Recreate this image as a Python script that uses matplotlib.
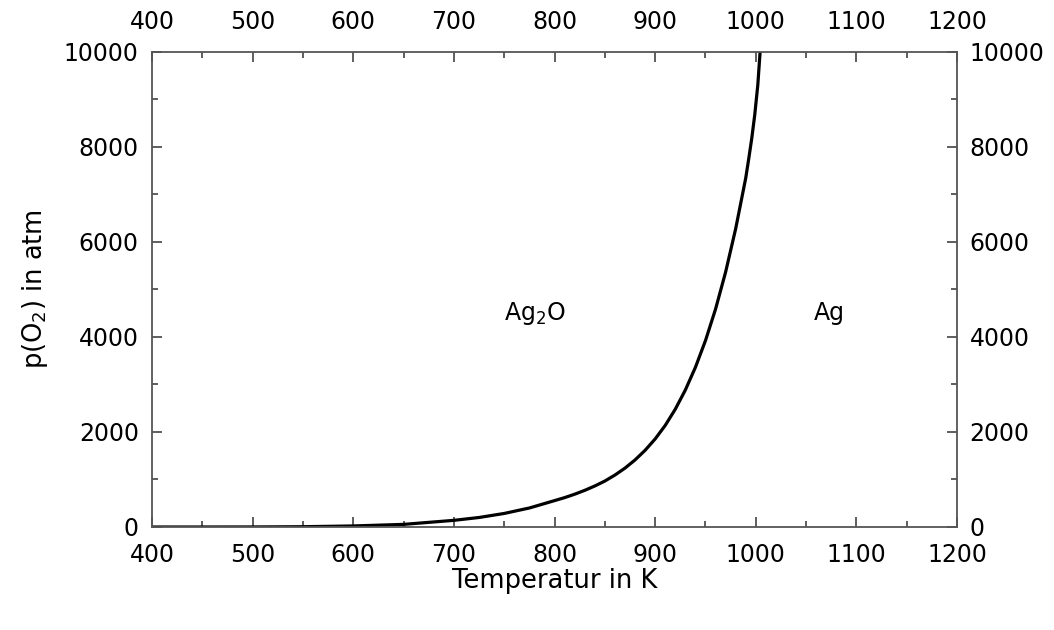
import matplotlib
matplotlib.use("Agg")
import matplotlib.pyplot as plt

# Zersetzungsdruck von Ag2O über der Temperatur
temperatur = [400, 450, 500, 550, 600, 650, 700, 725, 750, 775, 800, 810, 820, 830,
              840, 850, 860, 870, 880, 890, 900, 910, 920, 930, 940, 950, 960, 970,
              980, 990, 993, 996, 999, 1002, 1004.3]
druck = [0, 0, 1, 6, 22, 55, 140, 200, 285, 400, 555, 618, 690, 771,
         863, 967, 1093, 1239, 1411, 1614, 1853, 2138, 2479, 2883, 3360, 3923, 4585, 5364,
         6276, 7343, 7750, 8180, 8680, 9300, 10000]

phasen = ["Ag$_2$O", "Ag"]
phasen_x = [781, 1073]
phasen_y = [4500, 4500]

x_major = list(range(400, 1201, 100))
x_minor = list(range(450, 1200, 100))
y_major = list(range(0, 10001, 2000))
y_minor = list(range(1000, 10000, 2000))

plt.rcParams['font.family'] = ['DejaVu Sans']
plt.rcParams['font.size'] = 17

fig = plt.figure(figsize=(10.54, 6.3), dpi=100)
ax = fig.add_axes([0.1442, 0.1635, 0.7638, 0.754])

ax.plot(temperatur, druck, color='black', linewidth=2.3,
        solid_capstyle='butt', solid_joinstyle='round')

for name, x, y in zip(phasen, phasen_x, phasen_y):
    ax.text(x, y, name, ha='center', va='center', fontsize=17)

ax.set_xlim(400, 1200)
ax.set_ylim(0, 10000)
ax.set_xticks(x_major)
ax.set_xticks(x_minor, minor=True)
ax.set_yticks(y_major)
ax.set_yticks(y_minor, minor=True)

ax.tick_params(which='both', direction='in', top=True, right=True,
               width=1.1, color='#333333')
ax.tick_params(which='major', length=7)
ax.tick_params(which='minor', length=4)
ax.tick_params(axis='x', which='major', pad=11.5)
ax.tick_params(axis='y', which='major', pad=9.5)

for s in ax.spines.values():
    s.set_linewidth(1.3)
    s.set_color('#555555')

# Beschriftung oben und rechts
top = ax.secondary_xaxis('top')
top.set_xticks(x_major)
top.tick_params(which='both', length=0, pad=13)
right = ax.secondary_yaxis('right')
right.set_yticks(y_major)
right.tick_params(which='both', length=0, pad=9)
for sec in (top, right):
    for s in sec.spines.values():
        s.set_visible(False)

ax.set_xlabel("Temperatur in K", fontsize=18.5, labelpad=1)
ax.set_ylabel("p(O$_2$) in atm", fontsize=18.5, labelpad=10)

fig.savefig("out.png", dpi=100)
